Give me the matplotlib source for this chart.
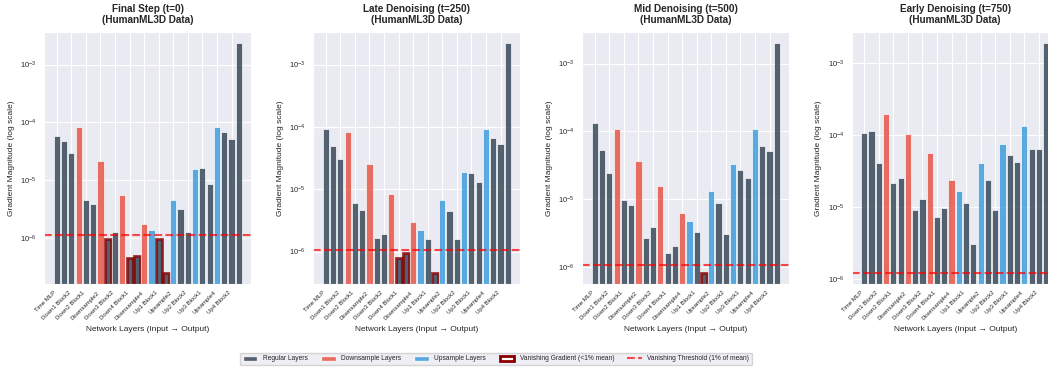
import numpy as np
import matplotlib
matplotlib.use("Agg")
import matplotlib.pyplot as plt
import seaborn as sns
from matplotlib.patches import Patch
from matplotlib.lines import Line2D

sns.set_style("darkgrid")
plt.rcParams["font.family"] = ["Liberation Sans", "DejaVu Sans"]

# Layer names, input -> output
layer_names = [
    "Time MLP", "Down1 Block1", "Down1 Block2", "Downsample1",
    "Down2 Block1", "Down2 Block2", "Downsample2",
    "Down3 Block1", "Down3 Block2", "Downsample3",
    "Down4 Block1", "Down4 Block2", "Downsample4",
    "Upsample1", "Up1 Block1", "Up1 Block2",
    "Upsample2", "Up2 Block1", "Up2 Block2",
    "Upsample3", "Up3 Block1", "Up3 Block2",
    "Upsample4", "Up4 Block1", "Up4 Block2", "Final Conv",
]

# Mean gradient magnitude per layer at each timestep
grad_t0 = [5.8e-5, 4.7e-5, 2.95e-5, 8.4e-5, 4.5e-6, 3.8e-6, 2.14e-5, 9.6e-7,
           1.24e-6, 5.6e-6, 4.4e-7, 4.9e-7, 1.73e-6, 1.37e-6, 9.7e-7, 2.5e-7,
           4.5e-6, 3.2e-6, 1.27e-6, 1.55e-5, 1.6e-5, 8.7e-6, 8.4e-5, 6.7e-5,
           5.1e-5, 2.35e-3]
grad_t250 = [9.4e-5, 5.0e-5, 3.0e-5, 8.4e-5, 5.9e-6, 4.6e-6, 2.55e-5, 1.64e-6,
             1.94e-6, 8.4e-6, 8.0e-7, 9.3e-7, 2.95e-6, 2.2e-6, 1.6e-6, 4.6e-7,
             6.6e-6, 4.4e-6, 1.58e-6, 1.9e-5, 1.8e-5, 1.3e-5, 9.1e-5, 6.7e-5,
             5.4e-5, 2.2e-3]
grad_t500 = [1.33e-4, 5.25e-5, 2.45e-5, 1.07e-4, 9.9e-6, 8.2e-6, 3.7e-5, 2.65e-6,
             3.85e-6, 1.59e-5, 1.61e-6, 2.05e-6, 6.2e-6, 4.7e-6, 3.3e-6, 8.3e-7,
             1.34e-5, 8.7e-6, 3.1e-6, 3.33e-5, 2.7e-5, 2.08e-5, 1.1e-4, 6.1e-5,
             5.1e-5, 2.0e-3]
grad_t750 = [1.05e-4, 1.15e-4, 4.1e-5, 1.95e-4, 2.13e-5, 2.48e-5, 1.04e-4, 9.0e-6,
             1.29e-5, 5.6e-5, 7.3e-6, 9.6e-6, 2.4e-5, 1.67e-5, 1.13e-5, 3.0e-6,
             4.1e-5, 2.37e-5, 8.9e-6, 7.6e-5, 5.2e-5, 4.25e-5, 1.35e-4, 6.4e-5,
             6.4e-5, 1.9e-3]

titles = [
    "Final Step (t=0)\n(HumanML3D Data)",
    "Late Denoising (t=250)\n(HumanML3D Data)",
    "Mid Denoising (t=500)\n(HumanML3D Data)",
    "Early Denoising (t=750)\n(HumanML3D Data)",
]
series = [grad_t0, grad_t250, grad_t500, grad_t750]

REGULAR = "#2c3e50"
DOWN = "#e74c3c"
UP = "#3498db"


def layer_color(name):
    if name.startswith("Downsample"):
        return DOWN
    if name.startswith("Upsample"):
        return UP
    return REGULAR


fig = plt.figure(figsize=(10.48, 3.68), dpi=100)
ax_w, ax_h = 207 / 1048, 252.3 / 368
ax_bottom = 1 - 284 / 368
lefts = [44.3, 313.3, 582.3, 851.7]

x = np.arange(len(layer_names))
colors = [layer_color(n) for n in layer_names]

for left, title, vals in zip(lefts, titles, series):
    ax = fig.add_axes([left / 1048, ax_bottom, ax_w, ax_h])
    vals = np.asarray(vals)
    threshold = 0.01 * vals.mean()
    vanishing = vals < threshold

    bars = ax.bar(x, vals, width=0.85, color=colors, alpha=0.8, log=True,
                  edgecolor="white", linewidth=0.6)
    for bar, v in zip(bars, vanishing):
        if v:
            bar.set_edgecolor("darkred")
            bar.set_linewidth(2)

    ax.axhline(threshold, color="red", linestyle="--", linewidth=1.5, alpha=0.7)

    ax.set_title(title, fontsize=7.2, fontweight="bold", pad=6)
    ax.set_xticks(x[::2])
    ax.set_xticklabels(layer_names[::2], rotation=45, ha="right", fontsize=4.3)
    ax.tick_params(axis="y", labelsize=5.5, pad=2)
    ax.tick_params(axis="x", pad=1)
    ax.set_xlabel("Network Layers (Input \u2192 Output)", fontsize=6)
    ax.set_ylabel("Gradient Magnitude (log scale)", fontsize=6)
    ax.grid(True, which="major", color="white", linewidth=0.8)

legend_handles = [
    Patch(facecolor=REGULAR, alpha=0.8, label="Regular Layers"),
    Patch(facecolor=DOWN, alpha=0.8, label="Downsample Layers"),
    Patch(facecolor=UP, alpha=0.8, label="Upsample Layers"),
    Patch(facecolor="white", edgecolor="darkred", linewidth=2,
          label="Vanishing Gradient (<1% mean)"),
    Line2D([0], [0], color="red", linestyle="--", alpha=0.7,
           label="Vanishing Threshold (1% of mean)"),
]
fig.legend(handles=legend_handles, loc="center", ncol=5,
           bbox_to_anchor=(496 / 1048, 1 - 359 / 368), fontsize=4.8,
           frameon=True, columnspacing=2.0, handlelength=2.2)

fig.savefig("out.png", dpi=100)
